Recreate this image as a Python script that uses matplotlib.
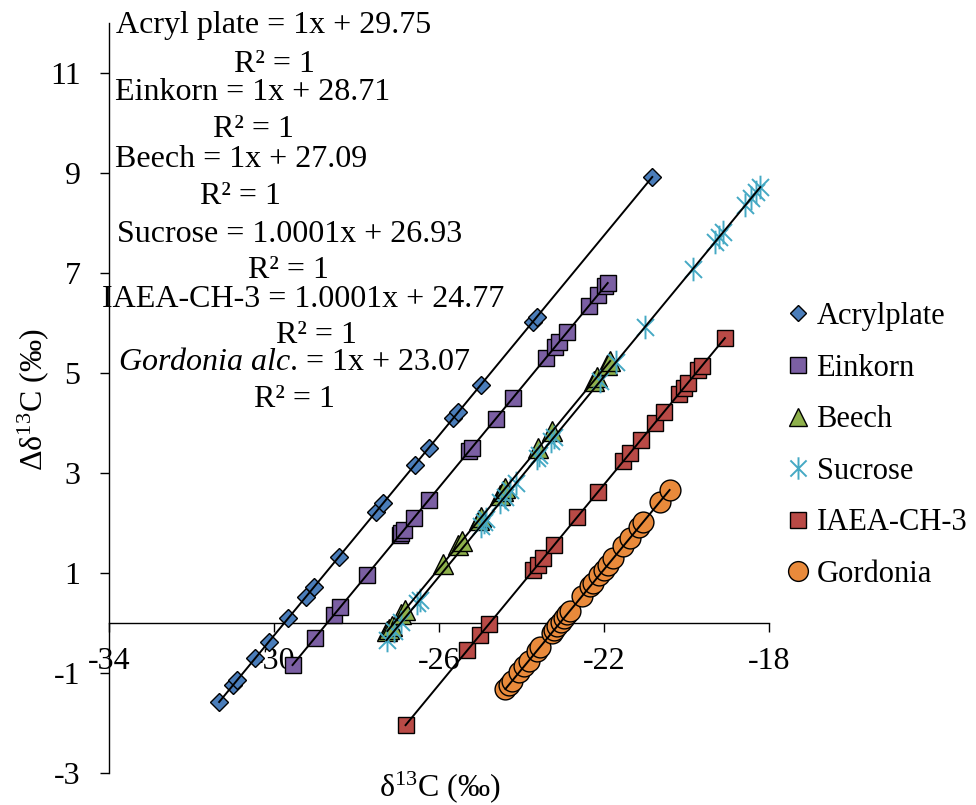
import numpy as np
import matplotlib
matplotlib.use("Agg")
import matplotlib.pyplot as plt
from matplotlib.path import Path

plt.rcParams['font.family'] = ['Liberation Serif', 'DejaVu Serif']
plt.rcParams['mathtext.fontset'] = 'custom'
plt.rcParams['mathtext.rm'] = 'Liberation Serif'
plt.rcParams['mathtext.it'] = 'Liberation Serif:italic'
plt.rcParams['axes.unicode_minus'] = False

# ---- data ----
acryl_x = [-31.33, -30.99, -30.89, -30.45, -30.13, -29.65, -29.23, -29.03, -28.43, -27.53,
           -27.35, -26.59, -26.25, -25.65, -25.53, -24.99, -23.73, -23.63, -20.83]
acryl_y = [-1.58, -1.24, -1.14, -0.70, -0.38, 0.10, 0.52, 0.72, 1.32, 2.22,
           2.40, 3.16, 3.50, 4.10, 4.22, 4.76, 6.02, 6.12, 8.92]

einkorn_x = [-29.55, -29.01, -28.55, -28.39, -27.75, -26.95, -26.91, -26.85, -26.61, -26.25, -25.27,
             -25.21, -24.63, -24.21, -23.41, -23.19, -23.09, -22.89, -22.37, -22.15, -21.97, -21.91]
einkorn_y = [-0.84, -0.30, 0.16, 0.32, 0.96, 1.76, 1.80, 1.86, 2.10, 2.46, 3.44,
             3.50, 4.08, 4.50, 5.30, 5.52, 5.62, 5.82, 6.34, 6.56, 6.74, 6.80]

beech_x = [-27.25, -27.21, -27.15, -26.91, -26.83, -25.91, -25.53, -25.45, -25.03, -24.97,
           -24.53, -24.45, -24.39, -23.59, -23.25, -22.25, -22.17, -21.93, -21.85]
beech_y = [-0.16, -0.12, -0.06, 0.18, 0.26, 1.18, 1.56, 1.64, 2.06, 2.12,
           2.56, 2.64, 2.70, 3.50, 3.84, 4.84, 4.92, 5.16, 5.24]

sucrose_x = [-27.27, -27.09, -26.91, -26.53, -26.47, -24.99, -24.91, -24.85, -24.51, -24.41,
             -24.27, -24.13, -23.63, -23.57, -23.29, -23.21, -22.09, -21.71, -21.01, -19.85,
             -19.31, -19.21, -19.11, -18.57, -18.43, -18.31, -18.21]
sucrose_y = [-0.34, -0.16, 0.02, 0.40, 0.46, 1.94, 2.02, 2.08, 2.42, 2.52,
             2.66, 2.80, 3.30, 3.36, 3.64, 3.72, 4.84, 5.22, 5.92, 7.08,
             7.62, 7.72, 7.82, 8.36, 8.50, 8.62, 8.72]

iaea_x = [-26.81, -25.31, -25.01, -24.79, -23.71, -23.61, -23.47, -23.21, -22.65, -22.15, -21.53,
          -21.37, -21.11, -20.77, -20.55, -20.19, -20.07, -19.97, -19.71, -19.63, -19.07]
iaea_y = [-2.04, -0.54, -0.24, -0.02, 1.06, 1.16, 1.30, 1.56, 2.12, 2.62, 3.24,
          3.40, 3.66, 4.00, 4.22, 4.58, 4.70, 4.80, 5.06, 5.14, 5.70]

gordonia_x = [-24.39, -24.31, -24.23, -24.05, -23.93, -23.83, -23.63, -23.55, -23.27, -23.21,
              -23.13, -23.05, -22.97, -22.89, -22.83, -22.53, -22.33, -22.27, -22.11, -22.01,
              -21.91, -21.77, -21.53, -21.37, -21.15, -21.05, -20.65, -20.41]
gordonia_y = [-1.32, -1.24, -1.16, -0.98, -0.86, -0.76, -0.56, -0.48, -0.20, -0.14,
              -0.06, 0.02, 0.10, 0.18, 0.24, 0.54, 0.74, 0.80, 0.96, 1.06,
              1.16, 1.30, 1.54, 1.70, 1.92, 2.02, 2.42, 2.66]

names = ['Acrylplate', 'Einkorn', 'Beech', 'Sucrose', 'IAEA-CH-3', 'Gordonia']
slopes = [1, 1, 1, 1.0001, 1.0001, 1]
intercepts = [29.75, 28.71, 27.09, 26.93, 24.77, 23.07]
eq_text = ['Acryl plate = 1x + 29.75',
           'Einkorn = 1x + 28.71',
           'Beech = 1x + 27.09',
           'Sucrose = 1.0001x + 26.93',
           'IAEA-CH-3 = 1.0001x + 24.77',
           r'$\mathit{Gordonia\ alc}$. = 1x + 23.07']
r2_text = ['R² = 1'] * 6

xticks = [-34, -30, -26, -22, -18]
yticks = [-3, -1, 1, 3, 5, 7, 9, 11]

FS = 23

# excel style asterisk: vertical bar + X
star = Path([(0, -1), (0, 1), (-0.72, -0.72), (0.72, 0.72), (-0.72, 0.72), (0.72, -0.72)],
            [Path.MOVETO, Path.LINETO, Path.MOVETO, Path.LINETO, Path.MOVETO, Path.LINETO])

styles = [
    dict(marker='D', ms=9, mfc='#4a7dba', mec='black', mew=1.0),
    dict(marker='s', ms=12, mfc='#7b5fa3', mec='black', mew=1.0),
    dict(marker='^', ms=14, mfc='#8eb04b', mec='black', mew=1.0),
    dict(marker=star, ms=17, mfc='none', mec='#45a9c4', mew=1.4),
    dict(marker='s', ms=12, mfc='#b94a46', mec='black', mew=1.0),
    dict(marker='o', ms=15, mfc='#e98a3b', mec='black', mew=1.0),
]

xs = [acryl_x, einkorn_x, beech_x, sucrose_x, iaea_x, gordonia_x]
ys = [acryl_y, einkorn_y, beech_y, sucrose_y, iaea_y, gordonia_y]

W, H = 976, 805
fig = plt.figure(figsize=(W / 100, H / 100), dpi=100)
ax = fig.add_axes([109 / W, 1 - 773 / H, 660 / W, 750 / H])

for i in range(6):
    ax.plot(xs[i], ys[i], linestyle='none', label=names[i], zorder=3 + i, **styles[i])
    xx = np.array([min(xs[i]), max(xs[i])])
    ax.plot(xx, slopes[i] * xx + intercepts[i], color='black', lw=1.4, zorder=20)

ax.set_xlim(-34, -18)
ax.set_ylim(-3, 12)
ax.set_xticks(xticks)
ax.set_yticks(yticks)
ax.spines['top'].set_visible(False)
ax.spines['right'].set_visible(False)
ax.spines['bottom'].set_position(('data', 0))
ax.spines['left'].set_linewidth(1.0)
ax.spines['bottom'].set_linewidth(1.0)
ax.tick_params(axis='x', direction='out', length=6.5, width=1.0, labelsize=FS, pad=11)
ax.tick_params(axis='y', direction='out', length=6.5, width=1.0, labelsize=FS, pad=14)

fig.text(33 / W, 1 - 400 / H, 'Δδ$^{13}$C (‰)', rotation=90, ha='center', va='center', fontsize=FS)
fig.text(440 / W, 1 - 796 / H, 'δ$^{13}$C (‰)', ha='center', va='baseline', fontsize=FS)

# trendline labels (center x, baseline y in pixels)
eq_pos = [(274, 33), (253, 100), (241, 167), (290, 242), (303, 307), (294, 370)]
r2_pos = [(274, 72), (253, 137), (240, 204), (288, 278), (316, 343), (294, 407)]
for i in range(6):
    fig.text(eq_pos[i][0] / W, 1 - eq_pos[i][1] / H, eq_text[i], ha='center', va='baseline', fontsize=FS)
    fig.text(r2_pos[i][0] / W, 1 - r2_pos[i][1] / H, r2_text[i], ha='center', va='baseline', fontsize=FS)

fig.legend(loc='upper left', bbox_to_anchor=(786 / W, 1 - 302 / H), frameon=False,
           fontsize=22, handlelength=0.8, handletextpad=0.2, labelspacing=0.74,
           borderpad=0, borderaxespad=0, numpoints=1, markerscale=0.95)

fig.savefig('out.png', dpi=100)
